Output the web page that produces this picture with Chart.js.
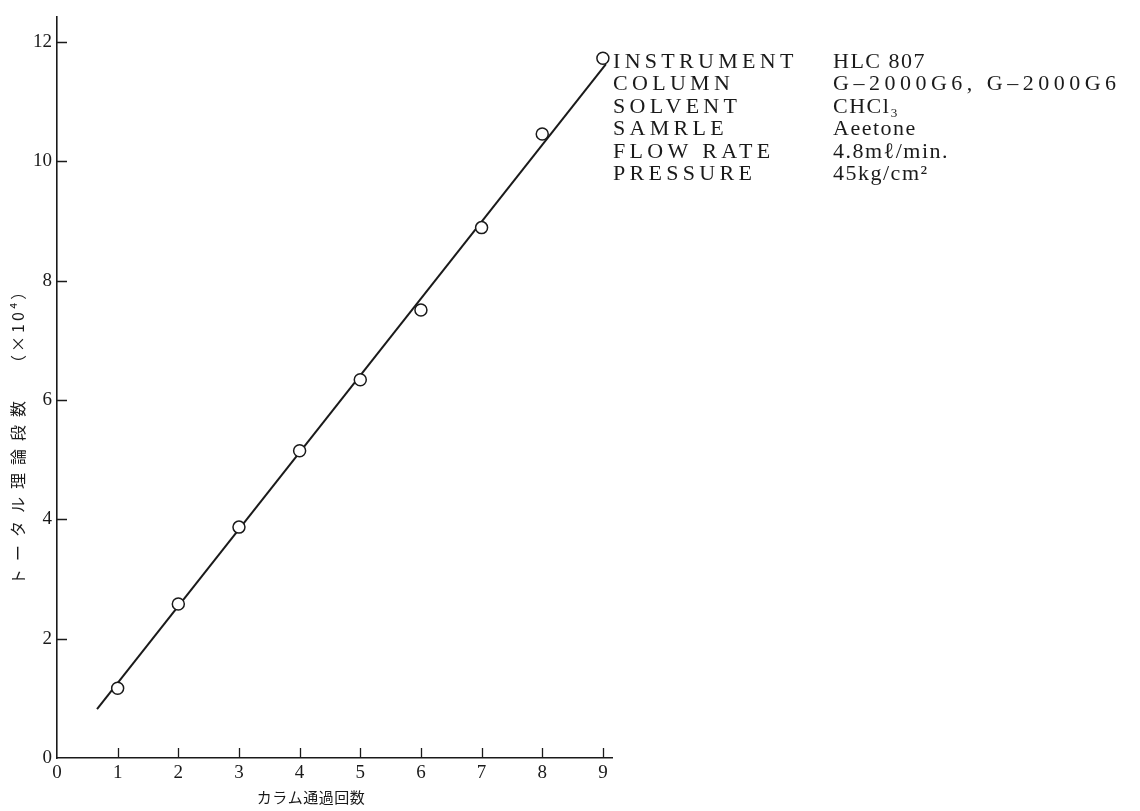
<!DOCTYPE html>
<html lang="ja">
<head>
<meta charset="utf-8">
<title>カラム通過回数とトータル理論段数</title>
<script src="https://cdn.jsdelivr.net/npm/chart.js@4.4.1/dist/chart.umd.min.js"></script>
<style>
  html, body { margin: 0; padding: 0; background: #fff; }
  canvas { display: block; }
</style>
</head>
<body>
<canvas id="c" width="1140" height="811"></canvas>
<script>
// Measured plates after each pass through the column (×10^4)
const passes = [1, 2, 3, 4, 5, 6, 7, 8, 9];
const plates = [1.17, 2.58, 3.87, 5.15, 6.34, 7.51, 8.89, 10.46, 11.73];

// Straight line drawn through the measurements (end points)
const fitX = [0.66, 9.05];
const fitY = [0.82, 11.63];

// Axis tick values
const xTickValues = [0, 1, 2, 3, 4, 5, 6, 7, 8, 9];
const yTickValues = [0, 2, 4, 6, 8, 10, 12];

// Axis titles
const xTitle = 'カラム通過回数';
const yTitleMain = 'トータル理論段数';
const yTitleUnit = '（×10⁴）';

// Measurement conditions
const condLabels = ['INSTRUMENT', 'COLUMN', 'SOLVENT', 'SAMRLE', 'FLOW RATE', 'PRESSURE'];
const condValues = ['HLC 807', 'G–2000G6, G–2000G6', 'CHCl₃', 'Aeetone', '4.8mℓ/min.', '45kg/cm²'];

const INK = '#1a1a1a';
const SERIF = '"Liberation Serif", "DejaVu Serif", serif';
const CJK = '"Noto Sans CJK JP", "Noto Sans", sans-serif';

// Short inward tick marks, axis titles and the conditions table
const decorations = {
  id: 'decorations',
  afterDraw(chart) {
    const ctx = chart.ctx;
    const xs = chart.scales.x, ys = chart.scales.y;
    const area = chart.chartArea;
    ctx.save();
    ctx.strokeStyle = INK;
    ctx.lineWidth = 1.3;
    ctx.beginPath();
    yTickValues.forEach(v => {
      if (v === 0) return;
      const py = Math.round(ys.getPixelForValue(v)) + 0.5;
      ctx.moveTo(area.left, py);
      ctx.lineTo(area.left + 10, py);
    });
    xTickValues.forEach(v => {
      if (v === 0) return;
      const px = Math.round(xs.getPixelForValue(v)) + 0.5;
      ctx.moveTo(px, area.bottom);
      ctx.lineTo(px, area.bottom - 10);
    });
    ctx.stroke();

    // x-axis title
    ctx.fillStyle = INK;
    ctx.font = '15px ' + CJK;
    ctx.textAlign = 'center';
    ctx.textBaseline = 'middle';
    ctx.letterSpacing = '0.5px';
    ctx.fillText(xTitle, 311, 797);

    // y-axis title (rotated, reads bottom to top)
    ctx.save();
    ctx.translate(18, 0);
    ctx.rotate(-Math.PI / 2);
    ctx.textAlign = 'left';
    ctx.font = '16px ' + CJK;
    ctx.letterSpacing = '8px';
    ctx.fillText(yTitleMain, -585, 0);
    ctx.letterSpacing = '3px';
    ctx.fillText(yTitleUnit, -371, 0);
    ctx.restore();

    // conditions table
    ctx.textAlign = 'left';
    ctx.textBaseline = 'middle';
    ctx.font = '22px ' + SERIF;
    condLabels.forEach((t, i) => {
      const y = 62 + i * 22.5;
      ctx.letterSpacing = '4.3px';
      ctx.fillText(t, 613, y);
      // the column pair is set wider than the other values
      ctx.letterSpacing = i === 1 ? '4.5px' : '1.5px';
      ctx.fillText(condValues[i], 833, y);
    });
    ctx.restore();
  }
};

new Chart(document.getElementById('c'), {
  type: 'scatter',
  data: {
    datasets: [
      {
        label: 'plates',
        data: passes.map((x, i) => ({ x, y: plates[i] })),
        showLine: false,
        pointStyle: 'circle',
        pointRadius: 6,
        pointBorderWidth: 1.5,
        pointBackgroundColor: '#fff',
        pointBorderColor: INK,
        order: 0
      },
      {
        label: 'fit',
        data: fitX.map((x, i) => ({ x, y: fitY[i] })),
        showLine: true,
        pointRadius: 0,
        borderColor: INK,
        borderWidth: 2,
        order: 1
      }
    ]
  },
  options: {
    responsive: false,
    animation: false,
    layout: { padding: { left: 0, top: 0, right: 528, bottom: 0 } },
    plugins: {
      legend: { display: false },
      tooltip: { enabled: false }
    },
    scales: {
      x: {
        type: 'linear',
        min: 0,
        max: 9.15,
        afterFit(scale) { scale.height = 53; },
        afterBuildTicks(scale) { scale.ticks = xTickValues.map(v => ({ value: v })); },
        grid: { display: true, drawOnChartArea: false, drawTicks: false },
        border: { display: true, color: INK, width: 1.6 },
        ticks: {
          padding: 4,
          color: INK,
          font: { family: SERIF, size: 19 },
          maxRotation: 0,
          autoSkip: false
        }
      },
      y: {
        type: 'linear',
        min: 0,
        max: 12.43,
        afterFit(scale) { scale.width = 57; },
        afterBuildTicks(scale) { scale.ticks = yTickValues.map(v => ({ value: v })); },
        grid: { display: true, drawOnChartArea: false, drawTicks: false },
        border: { display: true, color: INK, width: 1.6 },
        ticks: {
          padding: 5,
          color: INK,
          font: { family: SERIF, size: 19 },
          autoSkip: false
        }
      }
    }
  },
  plugins: [decorations]
});
</script>
</body>
</html>
